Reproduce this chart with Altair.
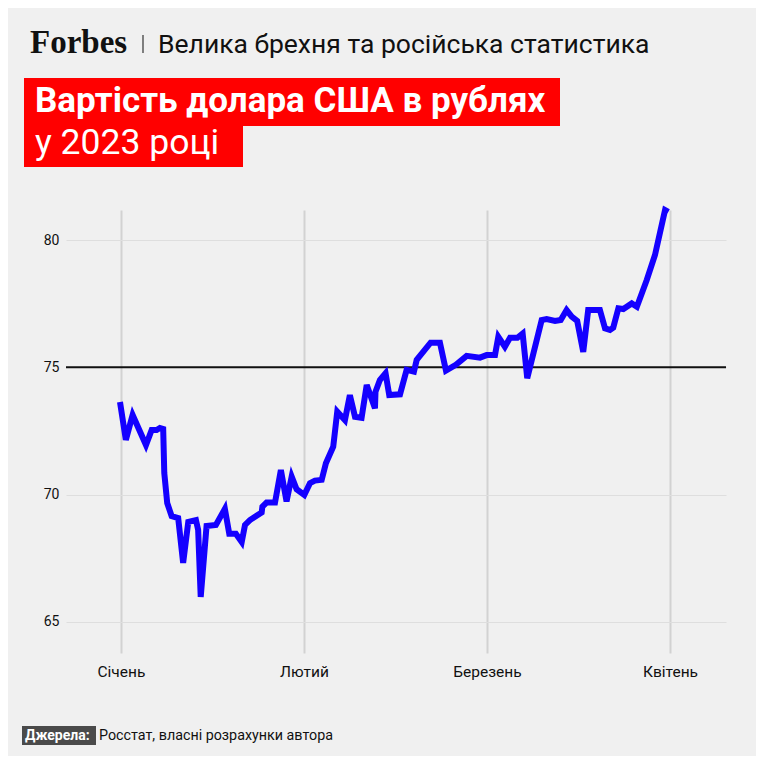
import altair as alt
import pandas as pd

# Data: position in months from 1 Jan 2023 (0 = Січень, 1 = Лютий, ...), USD/RUB rate
t = [-0.005, 0.027, 0.064, 0.137, 0.168, 0.195, 0.213, 0.231, 0.237, 0.253,
     0.277, 0.313, 0.340, 0.368, 0.410, 0.422, 0.436, 0.468, 0.519, 0.568,
     0.592, 0.628, 0.660, 0.678, 0.705, 0.769, 0.773, 0.796, 0.842, 0.874,
     0.905, 0.933, 0.960, 1.002, 1.033, 1.060, 1.097, 1.120, 1.160, 1.182,
     1.224, 1.251, 1.279, 1.315, 1.343, 1.388, 1.391, 1.415, 1.446, 1.466,
     1.525, 1.561, 1.601, 1.616, 1.692, 1.743, 1.776, 1.830, 1.889, 1.962,
     1.998, 2.044, 2.062, 2.098, 2.126, 2.166, 2.195, 2.220, 2.299, 2.326,
     2.372, 2.403, 2.435, 2.463, 2.493, 2.526, 2.553, 2.617, 2.645, 2.672,
     2.690, 2.718, 2.745, 2.791, 2.819, 2.873, 2.918, 2.973, 2.991]
usd = [73.64, 72.15, 73.13, 71.95, 72.54, 72.54, 72.62, 72.58, 70.85, 69.67,
       69.16, 69.08, 67.32, 68.93, 69.00, 68.62, 65.98, 68.77, 68.81, 69.44,
       68.46, 68.46, 68.14, 68.81, 69.00, 69.30, 69.53, 69.69, 69.69, 70.97,
       69.73, 70.71, 70.21, 69.99, 70.45, 70.55, 70.58, 71.23, 71.88, 73.26,
       72.93, 73.91, 73.06, 73.02, 74.31, 73.39, 74.04, 74.50, 74.77, 73.91,
       73.94, 74.90, 74.83, 75.29, 75.97, 75.97, 74.87, 75.10, 75.45, 75.38,
       75.48, 75.48, 76.20, 75.81, 76.16, 76.16, 76.33, 74.57, 76.86, 76.90,
       76.82, 76.86, 77.25, 76.99, 76.82, 75.61, 77.25, 77.25, 76.53, 76.47,
       76.56, 77.32, 77.29, 77.51, 77.38, 78.43, 79.41, 81.18, 81.11]
months = ["Січень", "Лютий", "Березень", "Квітень"]
y_ticks = [65, 70, 75, 80]
ref_level = 75

header = "Велика брехня та російська статистика"
title1 = "Вартість долара США в рублях"
title2 = "у 2023 році"
source_label = "Джерела:"
source_text = "Росстат, власні розрахунки автора"

df = pd.DataFrame({"i": list(range(len(t))), "t": t, "usd": usd})
one = pd.DataFrame({"k": [0]})

FONT = "Roboto"
month_expr = "[" + ",".join("'" + m + "'" for m in months) + "][round(datum.value)]"

x_enc = alt.X("t:Q", scale=alt.Scale(domain=[-0.30, 3.306], nice=False, zero=False),
              axis=alt.Axis(values=list(range(len(months))), labelExpr=month_expr,
                            title=None, domain=False, ticks=False, labelPadding=11,
                            labelFontSize=15.5, labelColor="#111111", labelFont=FONT,
                            grid=True, gridColor="#d2d2d2", gridWidth=2))
y_enc = alt.Y("usd:Q", scale=alt.Scale(domain=[63.78, 81.18], nice=False, zero=False),
              axis=alt.Axis(values=y_ticks, title=None, domain=False, ticks=False,
                            labelPadding=7, labelFontSize=14, labelColor="#111111",
                            labelFont=FONT, grid=True, gridColor="#dedede", gridWidth=1))

line = alt.Chart(df).mark_line(color="#1400ff", strokeWidth=6, strokeJoin="miter",
                               strokeMiterLimit=4).encode(x=x_enc, y=y_enc, order="i:Q")

rule75 = alt.Chart(one).mark_rule(color="#111111", strokeWidth=2).encode(
    y=alt.datum(ref_level))

def txt(text, x, y, size, color="#111111", weight="normal", font=FONT):
    return alt.Chart(one).mark_text(text=text, align="left", baseline="alphabetic",
                                    fontSize=size, fontWeight=weight, font=font,
                                    color=color).encode(x=alt.value(x), y=alt.value(y))

def box(x1, x2, y1, y2, color):
    return alt.Chart(one).mark_rect(color=color).encode(
        x=alt.value(x1), x2=alt.value(x2), y=alt.value(y1), y2=alt.value(y2))

sep = alt.Chart(one).mark_rule(color="#333333", strokeWidth=1.2).encode(
    x=alt.value(77), y=alt.value(-175), y2=alt.value(-157))

layers = [
    rule75, line,
    txt("Forbes", -36, -157, 33, "#111111", "bold", "Liberation Serif"),
    sep,
    txt(header, 92, -157, 26.5),
    box(-42, 494, -132, -84, "#ff0000"),
    box(-42, 177, -84, -43, "#ff0000"),
    txt(title1, -31, -98, 35, "#ffffff", "bold"),
    txt(title2, -31, -56, 35.5, "#ffffff", "normal"),
    box(-44, 30, 516, 535, "#4a4a4a"),
    txt(source_label, -41, 530, 14, "#ffffff", "bold"),
    txt(source_text, 33, 530, 14.3, "#111111", "normal"),
]

chart = alt.layer(*layers).properties(
    width=660, height=443,
    padding={"left": 58, "top": 202, "right": 30, "bottom": 103},
    autosize=alt.AutoSizeParams(type="none"),
).configure(background="#f0f0f0").configure_view(stroke=None)

chart.save("out.html", embed_options={"renderer": "svg", "actions": False})
